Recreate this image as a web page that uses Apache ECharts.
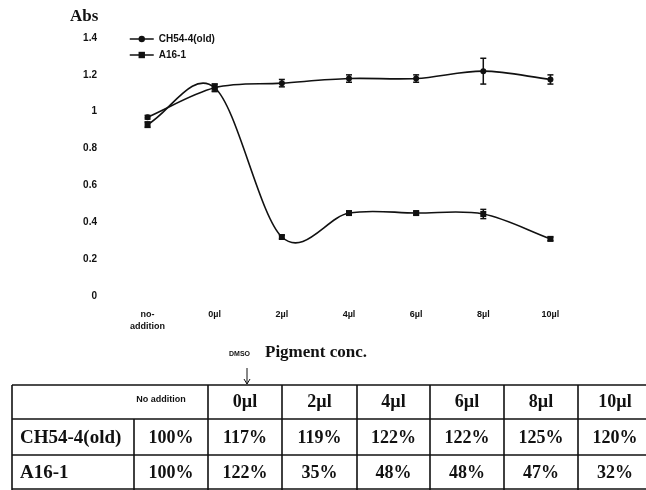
<!DOCTYPE html>
<html>
<head>
<meta charset="utf-8">
<script src="https://cdn.jsdelivr.net/npm/echarts@6/dist/echarts.min.js"></script>
<style>
html,body{margin:0;padding:0;background:#fff;}
#chart{width:646px;height:490px;}
</style>
</head>
<body>
<div id="chart"></div>
<script>
// ---- data ----
const categories = ['no-\naddition', '0µl', '2µl', '4µl', '6µl', '8µl', '10µl'];
const ch54 = [0.97, 1.13, 1.155, 1.18, 1.18, 1.22, 1.175];
const ch54Err = [0.01, 0.02, 0.02, 0.02, 0.02, 0.07, 0.025];
const a16 = [0.93, 1.13, 0.32, 0.45, 0.45, 0.445, 0.31];
const a16Err = [0.015, 0.02, 0.01, 0.01, 0.01, 0.025, 0.01];
const yTicks = [0, 0.2, 0.4, 0.6, 0.8, 1, 1.2, 1.4];
const tableHeader = ['No addition', '0µl', '2µl', '4µl', '6µl', '8µl', '10µl'];
const rowNames = ['CH54-4(old)', 'A16-1'];
const ch54Pct = ['100%', '117%', '119%', '122%', '122%', '125%', '120%'];
const a16Pct = ['100%', '122%', '35%', '48%', '48%', '47%', '32%'];

const chart = echarts.init(document.getElementById('chart'), null, {renderer: 'canvas'});
const sans = '"Liberation Sans", Arial, sans-serif';
const serif = '"Liberation Serif", "DejaVu Serif", serif';

function errSeries(vals, errs) {
  return {
    type: 'custom', silent: true, z: 5,
    data: vals.map((v, i) => [i, v, errs[i]]),
    renderItem: function (params, api) {
      const x = api.value(0), y = api.value(1), e = api.value(2);
      const t = api.coord([x, y + e]);
      const b = api.coord([x, y - e]);
      const w = 3;
      const st = {stroke: '#111', lineWidth: 1.5};
      return {
        type: 'group',
        children: [
          {type: 'line', shape: {x1: t[0], y1: t[1], x2: b[0], y2: b[1]}, style: st},
          {type: 'line', shape: {x1: t[0] - w, y1: t[1], x2: t[0] + w, y2: t[1]}, style: st},
          {type: 'line', shape: {x1: b[0] - w, y1: b[1], x2: b[0] + w, y2: b[1]}, style: st}
        ]
      };
    }
  };
}

// smoothed curve (Catmull-Rom style) drawn through the axis scales
function curveSeries(vals) {
  return {
    type: 'custom', silent: true, z: 2,
    data: vals.map((v, i) => [i, v]),
    renderItem: function (params, api) {
      const i = params.dataIndex;
      const n = vals.length;
      if (i >= n - 1) return null;
      const P = k => api.coord([k, vals[k]]);
      const tan = k => {
        const a = P(Math.max(k - 1, 0)), b = P(Math.min(k + 1, n - 1));
        const d = (k === 0 || k === n - 1) ? 1 : 2;
        return [(b[0] - a[0]) / d, (b[1] - a[1]) / d];
      };
      const p0 = P(i), p1 = P(i + 1), m0 = tan(i), m1 = tan(i + 1);
      return {
        type: 'bezierCurve',
        shape: {
          x1: p0[0], y1: p0[1], x2: p1[0], y2: p1[1],
          cpx1: p0[0] + m0[0] / 3, cpy1: p0[1] + m0[1] / 3,
          cpx2: p1[0] - m1[0] / 3, cpy2: p1[1] - m1[1] / 3
        },
        style: {stroke: '#111', lineWidth: 1.6, fill: null}
      };
    }
  };
}

// table graphics
const colEdges = [12, 134, 208, 282, 357, 430, 504, 578, 652];
const rowEdges = [385, 419, 455, 489];
const g = [];
const lineSt = {stroke: '#111', lineWidth: 1.6};
rowEdges.forEach(y => g.push({type: 'line', shape: {x1: 12, y1: y, x2: 646, y2: y}, style: lineSt}));
colEdges.forEach((x, i) => {
  const y1 = (i === 1) ? rowEdges[1] : rowEdges[0];
  g.push({type: 'line', shape: {x1: x, y1: y1, x2: x, y2: 490}, style: lineSt});
});
function cellText(txt, cx, cy, size, family, align) {
  g.push({type: 'text', x: cx, y: cy, style: {text: txt, font: 'bold ' + size + 'px ' + family, fill: '#111', align: align || 'center', verticalAlign: 'middle'}});
}
cellText(tableHeader[0], 161, 400, 9, sans);
for (let i = 1; i < tableHeader.length; i++) {
  cellText(tableHeader[i], (colEdges[i + 1] + colEdges[i + 2]) / 2, 402, 18, serif);
}
const rows = [ch54Pct, a16Pct];
rows.forEach((r, ri) => {
  const cy = (rowEdges[ri + 1] + rowEdges[ri + 2]) / 2 + 1;
  cellText(rowNames[ri], 20, cy, 19, serif, 'left');
  r.forEach((v, ci) => cellText(v, (colEdges[ci + 1] + colEdges[ci + 2]) / 2, cy, 18, serif));
});
g.push({type: 'text', x: 70, y: 8, style: {text: 'Abs', font: 'bold 17px ' + serif, fill: '#111'}});
g.push({type: 'text', x: 229, y: 354, style: {text: 'DMSO', font: 'bold 7px ' + sans, fill: '#111', verticalAlign: 'middle'}});
g.push({type: 'text', x: 265, y: 353, style: {text: 'Pigment conc.', font: 'bold 17px ' + serif, fill: '#111', verticalAlign: 'middle'}});
g.push({type: 'line', shape: {x1: 247, y1: 368, x2: 247, y2: 384}, style: {stroke: '#111', lineWidth: 1}});
g.push({type: 'polyline', shape: {points: [[244, 379], [247, 384], [250, 379]]}, style: {stroke: '#111', lineWidth: 1, fill: null}});

const option = {
  backgroundColor: '#fff',
  animation: false,
  grid: {left: 114, right: 62, top: 38, bottom: 194},
  legend: {
    data: ['CH54-4(old)', 'A16-1'],
    orient: 'vertical',
    left: 124, top: 29,
    itemWidth: 24, itemHeight: 8, itemGap: 6,
    lineStyle: {opacity: 1, width: 1.5, color: '#111'},
    textStyle: {fontSize: 10, fontWeight: 'bold', color: '#111', fontFamily: sans}
  },
  xAxis: {
    type: 'category',
    data: categories,
    boundaryGap: true,
    axisLine: {show: false},
    axisTick: {show: false},
    axisLabel: {fontSize: 9, fontWeight: 'bold', color: '#111', margin: 13, lineHeight: 12, fontFamily: sans}
  },
  yAxis: {
    type: 'value',
    min: 0, max: 1.4, interval: 0.2,
    splitLine: {show: false},
    axisLine: {show: false},
    axisTick: {show: false},
    axisLabel: {
      fontSize: 10, fontWeight: 'bold', color: '#111', margin: 17, fontFamily: sans,
      formatter: v => { const t = yTicks.find(k => Math.abs(k - v) < 1e-6); return t === undefined ? '' : String(t); }
    }
  },
  series: [
    {
      name: 'CH54-4(old)', type: 'line', data: ch54,
      symbol: 'circle', symbolSize: 6, z: 3,
      lineStyle: {color: '#111', width: 1.5, opacity: 0}, itemStyle: {color: '#111'}
    },
    {
      name: 'A16-1', type: 'line', data: a16,
      symbol: 'rect', symbolSize: 6, z: 3,
      lineStyle: {color: '#111', width: 1.5, opacity: 0}, itemStyle: {color: '#111'}
    },
    curveSeries(ch54),
    curveSeries(a16),
    errSeries(ch54, ch54Err),
    errSeries(a16, a16Err)
  ],
  graphic: g
};
chart.setOption(option);
</script>
</body>
</html>
